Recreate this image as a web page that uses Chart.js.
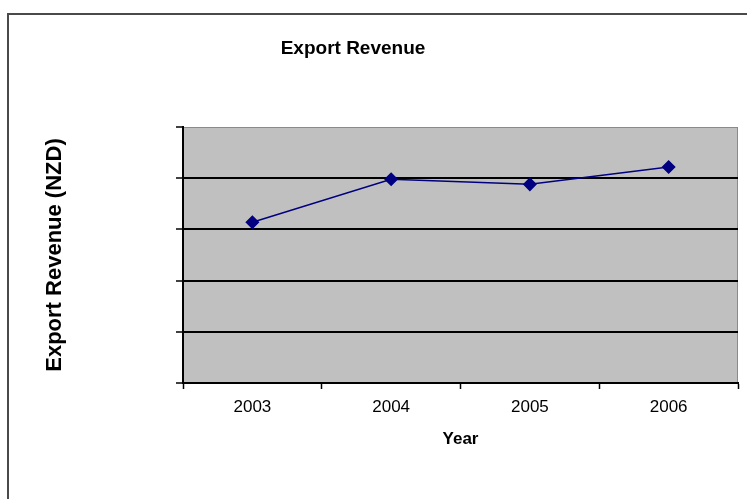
<!DOCTYPE html>
<html>
<head>
<meta charset="utf-8">
<script src="https://cdn.jsdelivr.net/npm/chart.js@4.4.1/dist/chart.umd.min.js"></script>
<style>
  html, body { margin: 0; padding: 0; background: #fff; }
  #wrap { width: 747px; height: 499px; position: relative; }
</style>
</head>
<body>
<div id="wrap"><canvas id="c" width="747" height="499"></canvas></div>
<script>
// Annual export revenue
const years = ['2003', '2004', '2005', '2006'];
const exportRevenue = [3.14, 3.98, 3.88, 4.22];
const chartTitle = 'Export Revenue';
const xAxisTitle = 'Year';
const yAxisTitle = 'Export Revenue (NZD)';
const yMin = 0;
const yMax = 5;
const yStep = 1;

const FONT = '"Liberation Sans", Arial, sans-serif';

// Outer frame, grey plot background and the chart heading
const frame = {
  id: 'frame',
  beforeDraw(chart) {
    const { ctx, chartArea: a } = chart;
    ctx.save();
    ctx.fillStyle = '#ffffff';
    ctx.fillRect(0, 0, chart.width, chart.height);
    ctx.strokeStyle = '#4a4a4a';
    ctx.lineWidth = 2;
    ctx.strokeRect(8, 14, chart.width + 40, chart.height + 40);
    ctx.fillStyle = '#c0c0c0';
    ctx.fillRect(a.left, a.top, a.right - a.left, a.bottom - a.top);
    ctx.strokeStyle = '#8a8a8a';
    ctx.lineWidth = 1;
    ctx.strokeRect(a.left + 0.5, a.top + 0.5, a.right - a.left - 1, a.bottom - a.top);
    ctx.fillStyle = '#000';
    ctx.font = 'bold 19px ' + FONT;
    ctx.textAlign = 'center';
    ctx.textBaseline = 'middle';
    ctx.fillText(chartTitle, 353, 49);
    ctx.restore();
  }
};

new Chart(document.getElementById('c'), {
  type: 'line',
  data: {
    labels: years,
    datasets: [{
      data: exportRevenue,
      borderColor: '#000080',
      backgroundColor: '#000080',
      borderWidth: 1.5,
      pointStyle: 'rectRot',
      pointRadius: 6,
      pointBackgroundColor: '#000080',
      pointBorderColor: '#000080',
      tension: 0,
      fill: false
    }]
  },
  options: {
    responsive: false,
    animation: false,
    devicePixelRatio: 1,
    layout: { padding: { left: 0, right: 9, top: 127, bottom: 0 } },
    plugins: {
      legend: { display: false },
      tooltip: { enabled: false },
      title: { display: false }
    },
    scales: {
      x: {
        type: 'category',
        offset: true,
        grid: {
          offset: true,
          drawOnChartArea: false,
          drawTicks: true,
          tickLength: 6,
          tickColor: '#000',
          tickWidth: 1.5
        },
        border: { display: true, color: '#000', width: 2 },
        ticks: { color: '#000', font: { family: FONT, size: 17 }, padding: 8, maxRotation: 0 },
        title: {
          display: true,
          text: xAxisTitle,
          color: '#000',
          font: { family: FONT, size: 17, weight: 'bold' },
          padding: { top: 0, bottom: 49 }
        },
        afterFit(scale) { scale.height = 116; }
      },
      y: {
        min: yMin,
        max: yMax,
        ticks: { display: false, stepSize: yStep },
        grid: {
          color: (c) => (c.tick && c.tick.value === yMax ? 'rgba(0,0,0,0)' : '#000'),
          lineWidth: 2,
          drawTicks: true,
          tickLength: 7,
          tickColor: '#000',
          tickWidth: 1.5
        },
        border: { display: true, color: '#000', width: 2 },
        title: {
          display: true,
          text: yAxisTitle,
          color: '#000',
          font: { family: FONT, size: 22, weight: 'bold' },
          padding: { top: 42, bottom: 0 }
        },
        afterFit(scale) { scale.width = 183; }
      }
    }
  },
  plugins: [frame]
});
</script>
</body>
</html>
